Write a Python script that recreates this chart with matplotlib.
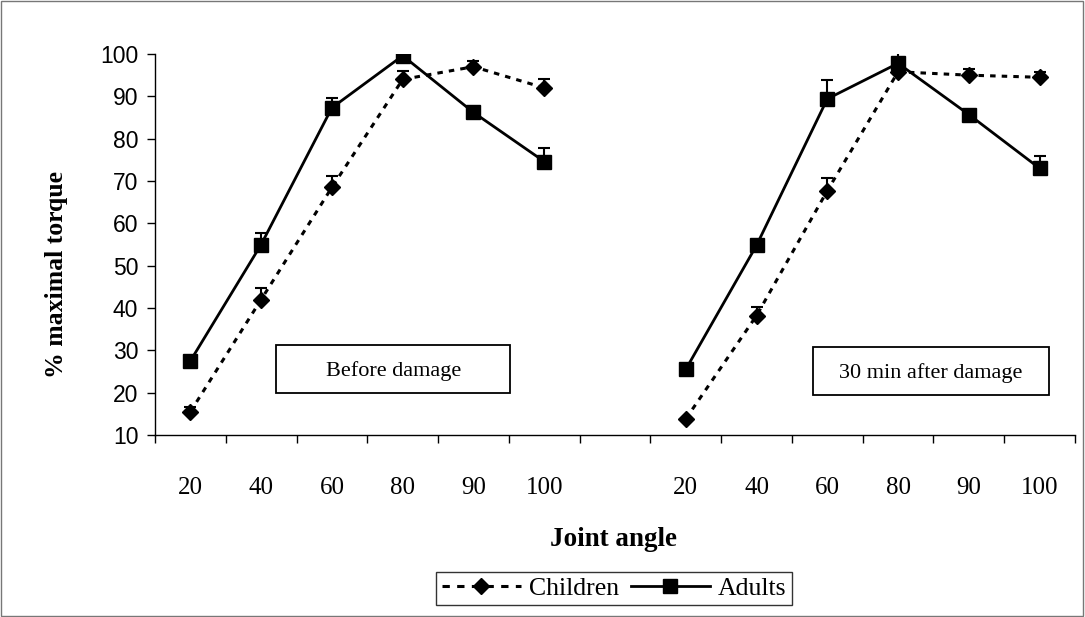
import matplotlib.pyplot as plt
from matplotlib.patches import Rectangle
import numpy as np

# joint angles for each panel
angles = ["20", "40", "60", "80", "90", "100"]

# before damage
children_before = [15.5, 42, 68.5, 94, 97, 92]
children_before_err = [1.2, 2.8, 2.7, 2.0, 1.4, 2.2]
adults_before = [27.5, 55, 87.3, 99.6, 86.2, 74.6]
adults_before_err = [0.0, 2.8, 2.3, 0.0, 0.0, 3.2]

# 30 min after damage
children_after = [13.8, 38.2, 67.7, 95.8, 95, 94.5]
children_after_err = [0.0, 2.0, 2.9, 0.0, 1.5, 1.3]
adults_after = [25.5, 54.8, 89.4, 97.8, 85.7, 73]
adults_after_err = [0.0, 0.0, 4.5, 3.2, 0.0, 2.8]

panel_labels = ["Before damage", "30 min after damage"]

serif = ["Liberation Serif", "DejaVu Serif"]
sans = ["Liberation Sans", "DejaVu Sans"]

W, H = 1085, 617
fig = plt.figure(figsize=(W / 100, H / 100), dpi=100)
ax = fig.add_axes([155 / W, 1 - 435 / H, 920 / W, 381 / H])

x_before = np.arange(6)
x_after = np.arange(7, 13)

child_ls = (0, (1.8, 2.0))
child_style = dict(color="black", linestyle=child_ls, linewidth=2.2,
                   marker="D", markersize=8, ecolor="black", elinewidth=1.5,
                   capsize=4.5, capthick=1.5)
adult_style = dict(color="black", linestyle="-", linewidth=2,
                   marker="s", markersize=9.5, ecolor="black", elinewidth=1.5,
                   capsize=4.5, capthick=1.5)

for xs, ch, ch_e, ad, ad_e in [
    (x_before, children_before, children_before_err, adults_before, adults_before_err),
    (x_after, children_after, children_after_err, adults_after, adults_after_err),
]:
    ax.errorbar(xs, ch, yerr=[np.zeros(6), ch_e], **child_style)
    ax.errorbar(xs, ad, yerr=[np.zeros(6), ad_e], **adult_style)

ax.set_xlim(-0.5, 12.5)
ax.set_ylim(10, 100)
ax.set_yticks(np.arange(10, 101, 10))
ax.set_xticks(list(x_before) + list(x_after))
ax.set_xticklabels(angles + angles, fontfamily=serif, fontsize=18)
ax.set_xticks(np.arange(-0.5, 13, 1), minor=True)
ax.tick_params(axis="x", which="major", length=0, pad=30)
ax.tick_params(axis="x", which="minor", length=6, width=1, direction="out")
ax.tick_params(axis="y", length=6, width=1, direction="out", labelsize=16.5, pad=6)
for lab in ax.get_yticklabels():
    lab.set_fontfamily(sans)

for side in ["top", "right"]:
    ax.spines[side].set_visible(False)
for side in ["left", "bottom"]:
    ax.spines[side].set_linewidth(1)

# axis titles placed in figure pixels
fig.text(614 / W, 1 - 546 / H, "Joint angle", fontfamily=serif, fontsize=19.5,
         fontweight="bold", ha="center", va="baseline")
fig.text(56 / W, 1 - 275 / H, "% maximal torque", fontfamily=serif, fontsize=18.5,
         fontweight="bold", ha="center", va="center", rotation=90)

# panel annotation boxes
boxes = [(1.21, 19.9, 3.31, 11.35), (8.80, 19.45, 3.33, 11.35)]
for (bx, by, bw, bh), label in zip(boxes, panel_labels):
    ax.add_patch(Rectangle((bx, by), bw, bh, facecolor="white", edgecolor="black",
                           linewidth=1.3, zorder=4))
    ax.text(bx + bw / 2, by + bh / 2 - 0.4, label, fontfamily=serif, fontsize=16,
            ha="center", va="center", zorder=5)

# legend
h1 = plt.Line2D([], [], color="black", linestyle=(0, (2.4, 2.4)), linewidth=2.2,
                marker="D", markersize=8)
h2 = plt.Line2D([], [], color="black", linestyle="-", linewidth=2, marker="s", markersize=9.5)
leg = fig.legend([h1, h2], ["Children", "Adults"], loc="center",
                 bbox_to_anchor=(614 / W, 1 - 588.5 / H),
                 ncol=2, frameon=True, fancybox=False, edgecolor="black", handlelength=3.1,
                 columnspacing=0.45, handletextpad=0.3, borderpad=0.2, borderaxespad=0,
                 prop={"family": serif, "size": 18.5})
leg.get_frame().set_linewidth(1)

# figure border
fig.patches.append(Rectangle((0.001, 0.002), 0.997, 0.996, transform=fig.transFigure,
                             fill=False, edgecolor="#777777", linewidth=1))

fig.savefig("out.png", dpi=100)
